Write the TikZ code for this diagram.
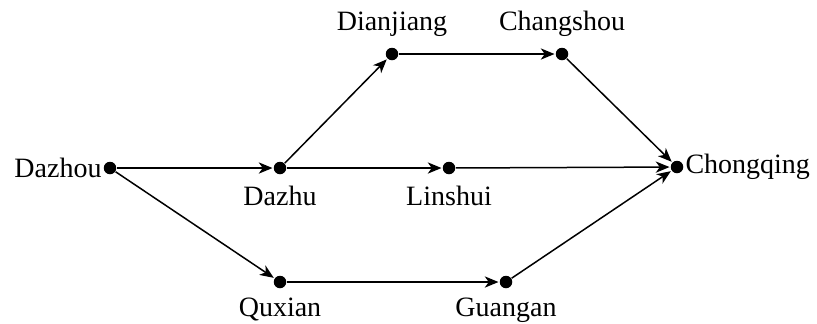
\documentclass[tikz,border=0pt]{standalone}
\usepackage{fontspec}
\setmainfont{Liberation Serif}
\usetikzlibrary{arrows.meta}
\begin{document}
\begin{tikzpicture}[x=0.4pt,y=-0.4pt,
  city/.style={circle,fill=black,inner sep=0pt,minimum size=5pt},
  every label/.style={font=\fontsize{11.2}{13}\selectfont,inner sep=2pt},
  link/.style={-{Stealth[length=5.5pt,width=4.5pt,inset=1.6pt]},line width=0.6pt,shorten >=0.3pt}]
\useasboundingbox (0,0) rectangle (817,323);
\node[city,label={[inner sep=0.5pt]left:Dazhou}] (dazhou) at (110,168) {};
\node[city,label={[yshift=-2.5pt]below:Dazhu}] (dazhu) at (280,168) {};
\node[city,label={[yshift=-2.5pt]below:Linshui}] (linshui) at (449,168) {};
\node[city,label={[inner sep=0.5pt]right:Chongqing}] (chongqing) at (677,167) {};
\node[city,label={[yshift=2pt]above:Dianjiang}] (dianjiang) at (392,54) {};
\node[city,label={[yshift=2pt]above:Changshou}] (changshou) at (562,54) {};
\node[city,label={[yshift=-1.5pt]below:Quxian}] (quxian) at (280,282) {};
\node[city,label={[yshift=-1.5pt]below:Guangan}] (guangan) at (506,282) {};
\draw[link] (dazhou) -- (dazhu);
\draw[link] (dazhou) -- (quxian);
\draw[link] (dazhu) -- (dianjiang);
\draw[link] (dazhu) -- (linshui);
\draw[link] (dianjiang) -- (changshou);
\draw[link] (changshou) -- (chongqing);
\draw[link] (linshui) -- (chongqing);
\draw[link] (quxian) -- (guangan);
\draw[link] (guangan) -- (chongqing);
\end{tikzpicture}
\end{document}
